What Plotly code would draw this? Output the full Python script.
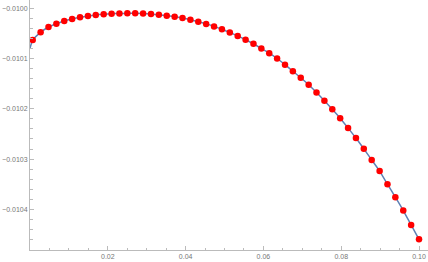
import plotly.graph_objects as go

# sample points (x, y)
x_pts = [0.00070, 0.00273, 0.00475, 0.00678, 0.00881, 0.01083, 0.01286, 0.01489, 0.01691, 0.01894,
         0.02097, 0.02299, 0.02502, 0.02704, 0.02907, 0.03110, 0.03312, 0.03515, 0.03718, 0.03920,
         0.04123, 0.04326, 0.04528, 0.04731, 0.04934, 0.05136, 0.05339, 0.05542, 0.05744, 0.05947,
         0.06150, 0.06352, 0.06555, 0.06757, 0.06960, 0.07163, 0.07365, 0.07568, 0.07771, 0.07973,
         0.08176, 0.08379, 0.08581, 0.08784, 0.08987, 0.09189, 0.09392, 0.09595, 0.09797, 0.10000]
y_pts = [-0.0100631, -0.0100478, -0.0100372, -0.0100306, -0.0100253, -0.0100213, -0.0100179, -0.0100153,
         -0.0100133, -0.0100119, -0.0100109, -0.0100103, -0.0100100, -0.0100100, -0.0100105, -0.0100115,
         -0.0100129, -0.0100147, -0.0100167, -0.0100195, -0.0100229, -0.0100269, -0.0100310, -0.0100360,
         -0.0100416, -0.0100480, -0.0100549, -0.0100625, -0.0100706, -0.0100800, -0.0100894, -0.0100999,
         -0.0101122, -0.0101252, -0.0101383, -0.0101522, -0.0101676, -0.0101839, -0.0102010, -0.0102187,
         -0.0102382, -0.0102581, -0.0102796, -0.0103017, -0.0103240, -0.0103501, -0.0103759, -0.0104024,
         -0.0104310, -0.0104597]

# curve start value at x = 0
curve_x0 = 0.0
curve_y0 = -0.0100796

x_tickvals = [0.02, 0.04, 0.06, 0.08, 0.10]
x_ticktext = ["0.02", "0.04", "0.06", "0.08", "0.10"]
y_tickvals = [-0.0100, -0.0101, -0.0102, -0.0103, -0.0104]
y_ticktext = ["\u22120.0100", "\u22120.0101", "\u22120.0102", "\u22120.0103", "\u22120.0104"]

fig = go.Figure()
fig.add_trace(go.Scatter(
    x=[curve_x0] + x_pts, y=[curve_y0] + y_pts, mode="lines",
    line=dict(color="#5E81B5", width=1.5, shape="spline", smoothing=0.6),
    hoverinfo="skip", showlegend=False, cliponaxis=False))
fig.add_trace(go.Scatter(
    x=x_pts, y=y_pts, mode="markers",
    marker=dict(color="#FF0000", size=6.5, line=dict(width=0)),
    showlegend=False, cliponaxis=False))

axis_color = "#BBBBBB"
fig.update_layout(
    width=428, height=262,
    margin=dict(l=30, r=0, t=0, b=12),
    paper_bgcolor="white", plot_bgcolor="white",
    font=dict(family="Liberation Sans, Arial, sans-serif", size=7, color="#777777"),
    xaxis=dict(range=[0, 0.10231], showgrid=False, zeroline=False, automargin=False,
               showline=True, linecolor=axis_color, linewidth=1,
               ticks="inside", ticklen=4, tickcolor=axis_color, tickwidth=1,
               tickvals=x_tickvals, ticktext=x_ticktext,
               minor=dict(dtick=0.005, tick0=0, ticks="inside", ticklen=2.5, tickcolor=axis_color, showgrid=False)),
    yaxis=dict(range=[-0.01048099, -0.00998348], showgrid=False, zeroline=False, automargin=False,
               showline=True, linecolor=axis_color, linewidth=1,
               ticks="inside", ticklen=4, tickcolor=axis_color, tickwidth=1,
               tickvals=y_tickvals, ticktext=y_ticktext,
               minor=dict(dtick=0.00002, tick0=-0.0100, ticks="inside", ticklen=2.5, tickcolor=axis_color, showgrid=False)),
)

fig.write_html("out.html", config={"displayModeBar": False},
               post_script="document.body.style.margin='0';document.body.style.overflow='hidden';")
